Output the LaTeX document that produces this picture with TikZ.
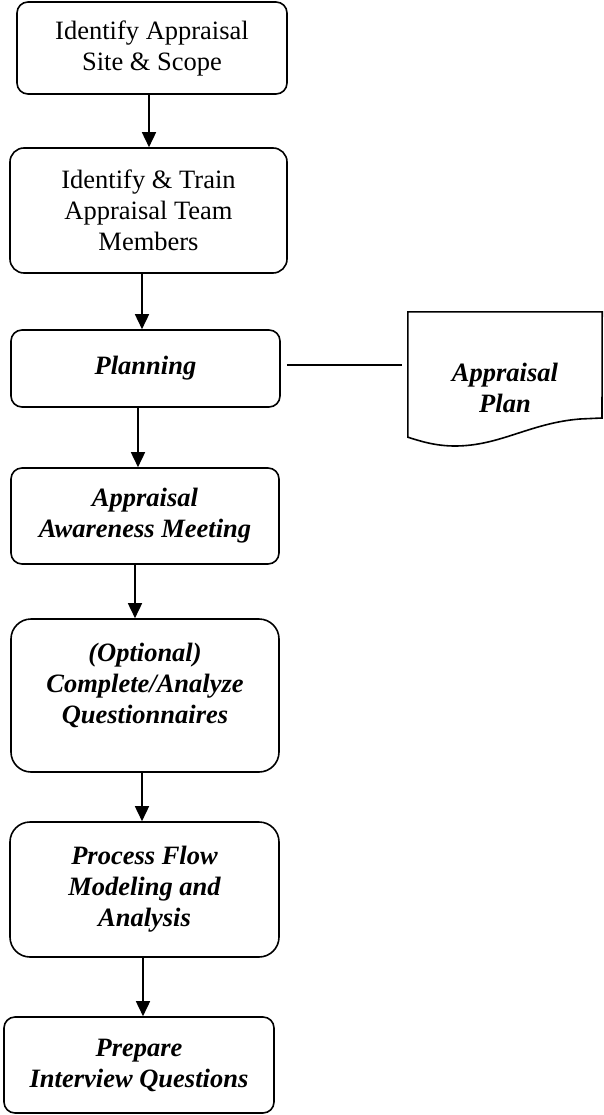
\documentclass[tikz,border=0pt]{standalone}
\usepackage{fontspec}
\setmainfont{Liberation Serif}
\usetikzlibrary{arrows.meta}
\tikzset{
  stepbox/.style={draw, line width=1.6pt, rounded corners=11pt, inner sep=0pt, align=center, font=\fontsize{26.5}{31}\selectfont},
  bigbox/.style={stepbox, rounded corners=20pt},
  emph/.style={font=\fontsize{26.5}{31}\selectfont\bfseries\itshape},
  lbl/.style={align=center, inner sep=0pt},
  arr/.style={line width=1.6pt, -{Triangle[width=14pt,length=15pt]}},
  plain/.style={line width=1.6pt},
  docbox/.style={inner sep=0pt, minimum width=194pt, minimum height=125pt}
}
\begin{document}
\begin{tikzpicture}[x=1pt,y=-1pt]
\useasboundingbox (0,0) rectangle (603,1115);
\node[stepbox, minimum width=270pt, minimum height=92pt] (b1) at (152,48) {Identify Appraisal\\Site \& Scope};
\node[stepbox, rounded corners=14pt, minimum width=277pt, minimum height=125pt] (b2) at (148.5,210.5) {Identify \& Train\\Appraisal Team\\Members};
\node[stepbox, emph, minimum width=269pt, minimum height=77pt] (b3) at (145.5,368.5) {Planning};
\node[stepbox, emph, minimum width=268pt, minimum height=96pt] (b4) at (145,516) {Appraisal\\Awareness Meeting};
\node[bigbox, minimum width=268pt, minimum height=153pt] (b5) at (145,695.5) {};
\node[lbl, emph] (t5) at (145,685) {(Optional)\\Complete/Analyze\\Questionnaires};
\node[bigbox, emph, minimum width=269pt, minimum height=135pt] (b6) at (144.5,889.5) {Process Flow\\Modeling and\\Analysis};
\node[stepbox, emph, minimum width=270pt, minimum height=96pt] (b7) at (139,1065) {Prepare\\Interview Questions};
% document
\node[docbox] (doc) at (505,374.5) {};
\draw[plain, line join=miter] (doc.south west) -- (doc.north west) -- (doc.north east) -- (602,418) -- (580,419)
  .. controls (530,423) and (500,446) .. (455,446)
  .. controls (435,446) and (420,441) .. (doc.south west) -- cycle;
\node[lbl, emph] (t8) at (505,388) {Appraisal\\Plan};
% connectors
\draw[arr] ([xshift=-3pt]b1.south) -- ([xshift=0.5pt]b2.north);
\draw[arr] ([xshift=-6.5pt]b2.south) -- ([xshift=-3.5pt]b3.north);
\draw[arr] ([xshift=-7.5pt]b3.south) -- ([xshift=-7pt]b4.north);
\draw[arr] ([xshift=-10pt]b4.south) -- ([xshift=-10pt]b5.north);
\draw[arr] ([xshift=-3pt]b5.south) -- ([xshift=-2.5pt]b6.north);
\draw[arr] ([xshift=-1.5pt]b6.south) -- ([xshift=4pt]b7.north);
\coordinate (ls) at ([xshift=6pt,yshift=3.5pt]b3.east);
\draw[plain, shorten >=6pt] (ls) -- (ls -| doc.west);
\end{tikzpicture}
\end{document}
